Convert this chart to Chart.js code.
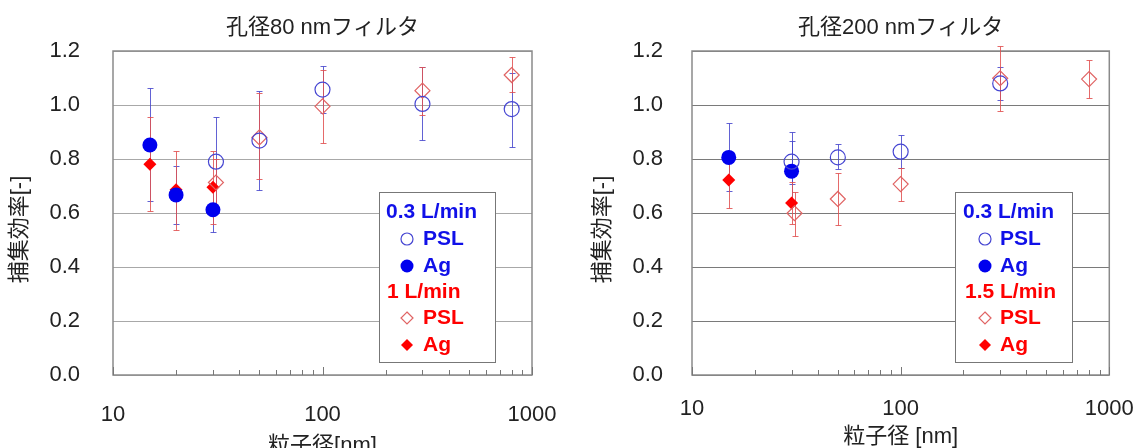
<!DOCTYPE html>
<html><head><meta charset="utf-8">
<script src="https://cdn.jsdelivr.net/npm/chart.js@4.4.1/dist/chart.umd.min.js"></script>
<style>
html,body{margin:0;padding:0;background:#fff;overflow:hidden;width:1140px;height:448px;}
.wrap{position:absolute;top:0;width:570px;height:470px;}
#w1{left:0;} #w2{left:570px;}
</style></head><body>
<div class="wrap" id="w1"><canvas id="c1" width="570" height="470"></canvas></div>
<div class="wrap" id="w2"><canvas id="c2" width="570" height="470"></canvas></div>
<script>
// ---------- text ----------
const titleLeft = '孔径80 nmフィルタ';
const titleRight = '孔径200 nmフィルタ';
const xTitleLeft = '粒子径[nm]';
const xTitleRight = '粒子径 [nm]';
const yTitle = '捕集効率[-]';
const xTickLabels = ['10', '100', '1000'];
const xTickValues = [10,20,30,40,50,60,70,80,90,100,200,300,400,500,600,700,800,900,1000];
const legendLeft = ['0.3 L/min', 'PSL', 'Ag', '1 L/min', 'PSL', 'Ag'];
const legendRight = ['0.3 L/min', 'PSL', 'Ag', '1.5 L/min', 'PSL', 'Ag'];

// ---------- left chart (80 nm filter) ----------
const L_psl03_x  = [31, 50, 100, 300, 800];
const L_psl03_y  = [0.79, 0.868, 1.057, 1.004, 0.985];
const L_psl03_hi = [0.957, 1.053, 1.146, 1.142, 1.12];
const L_psl03_lo = [0.60, 0.685, 0.97, 0.870, 0.843];

const L_ag03_x  = [15, 20, 30];
const L_ag03_y  = [0.852, 0.667, 0.612];
const L_ag03_hi = [1.063, 0.775, 0.70];
const L_ag03_lo = [0.643, 0.559, 0.528];

const L_psl1_x  = [31, 50, 100, 300, 800];
const L_psl1_y  = [0.713, 0.88, 0.995, 1.053, 1.111];
const L_psl1_hi = [0.80, 1.043, 1.13, 1.142, 1.176];
const L_psl1_lo = [0.62, 0.726, 0.861, 0.964, 1.047];

const L_ag1_x  = [15, 20, 30];
const L_ag1_y  = [0.781, 0.686, 0.695];
const L_ag1_hi = [0.954, 0.83, 0.83];
const L_ag1_lo = [0.609, 0.538, 0.559];

// ---------- right chart (200 nm filter) ----------
const R_psl03_x  = [30, 50, 100, 300];
const R_psl03_y  = [0.79, 0.806, 0.827, 1.08];
const R_psl03_hi = [0.901, 0.855, 0.889, 1.139];
const R_psl03_lo = [0.707, 0.763, 0.767, 1.019];

const R_ag03_x  = [15, 30];
const R_ag03_y  = [0.806, 0.755];
const R_ag03_hi = [0.932, 0.868];
const R_ag03_lo = [0.683, 0.645];

const R_psl15_x  = [31, 50, 100, 300, 800];
const R_psl15_y  = [0.599, 0.652, 0.707, 1.099, 1.096];
const R_psl15_hi = [0.676, 0.748, 0.767, 1.22, 1.167];
const R_psl15_lo = [0.516, 0.556, 0.646, 0.976, 1.026];

const R_ag15_x  = [15, 30];
const R_ag15_y  = [0.722, 0.637];
const R_ag15_hi = [0.80, 0.713];
const R_ag15_lo = [0.617, 0.56];

// ---------- styles ----------
const BLUE_OPEN = '#4646d2', BLUE_FILL = '#0000ee';
const RED_OPEN = '#e06464', RED_FILL = '#ff0000';
const BLUE_ERR = 'rgba(70,70,205,0.85)', RED_ERR = 'rgba(225,80,80,0.85)';
const FONT = '"Liberation Sans", "Noto Sans CJK JP", sans-serif';

Chart.defaults.font.family = FONT;
Chart.defaults.color = '#222';

function pts(xs, ys) { return xs.map((x, i) => ({x: x, y: ys[i]})); }

function makeSets(p03x, p03y, p03h, p03l, a03x, a03y, a03h, a03l, p1x, p1y, p1h, p1l, a1x, a1y, a1h, a1l) {
  return [
    {data: pts(p03x, p03y), errHi: p03h, errLo: p03l, errColor: BLUE_ERR,
     pointStyle: 'circle', pointRadius: 7.5, borderColor: BLUE_OPEN, backgroundColor: 'rgba(0,0,0,0)', borderWidth: 1.2},
    {data: pts(a03x, a03y), errHi: a03h, errLo: a03l, errColor: BLUE_ERR,
     pointStyle: 'circle', pointRadius: 7.5, borderColor: BLUE_FILL, backgroundColor: BLUE_FILL, borderWidth: 0},
    {data: pts(p1x, p1y), errHi: p1h, errLo: p1l, errColor: RED_ERR,
     pointStyle: 'rectRot', pointRadius: 7.5, borderColor: RED_OPEN, backgroundColor: 'rgba(0,0,0,0)', borderWidth: 1.2},
    {data: pts(a1x, a1y), errHi: a1h, errLo: a1l, errColor: RED_ERR,
     pointStyle: 'rectRot', pointRadius: 6.5, borderColor: RED_FILL, backgroundColor: RED_FILL, borderWidth: 0}
  ];
}

const errorBars = {
  id: 'errorBars',
  beforeDatasetsDraw(chart) {
    const ctx = chart.ctx, xs = chart.scales.x, ys = chart.scales.y;
    chart.data.datasets.forEach(ds => {
      ctx.save();
      ctx.strokeStyle = ds.errColor;
      ctx.lineWidth = 1;
      ds.data.forEach((p, i) => {
        const px = Math.round(xs.getPixelForValue(p.x)) + 0.5;
        const yh = Math.round(ys.getPixelForValue(ds.errHi[i])) + 0.5;
        const yl = Math.round(ys.getPixelForValue(ds.errLo[i])) + 0.5;
        ctx.beginPath();
        ctx.moveTo(px, yh); ctx.lineTo(px, yl);
        ctx.moveTo(px - 3, yh); ctx.lineTo(px + 3, yh);
        ctx.moveTo(px - 3, yl); ctx.lineTo(px + 3, yl);
        ctx.stroke();
      });
      ctx.restore();
    });
  }
};

const frame = {
  id: 'frame',
  beforeDatasetsDraw(chart) {
    const ctx = chart.ctx, a = chart.chartArea, xs = chart.scales.x;
    ctx.save();
    ctx.strokeStyle = '#8a8a8a';
    ctx.lineWidth = 1.5;
    ctx.strokeRect(a.left, a.top, a.right - a.left, a.bottom - a.top);
    ctx.lineWidth = 1;
    ctx.strokeStyle = '#777';
    xs.ticks.forEach(t => {
      const px = Math.round(xs.getPixelForValue(t.value)) + 0.5;
      const major = xTickLabels.indexOf(String(t.value)) >= 0;
      ctx.beginPath();
      ctx.moveTo(px, a.bottom);
      ctx.lineTo(px, a.bottom - (major ? 8 : 5));
      ctx.stroke();
    });
    ctx.restore();
  }
};

const boxLegend = {
  id: 'boxLegend',
  afterDraw(chart, args, o) {
    const ctx = chart.ctx, a = chart.chartArea;
    const bx = a.left + o.dx, by = o.top;
    ctx.save();
    ctx.fillStyle = '#fff';
    ctx.fillRect(bx, by, o.w, o.h);
    ctx.strokeStyle = '#777';
    ctx.lineWidth = 1;
    ctx.strokeRect(bx + 0.5, by + 0.5, o.w, o.h);
    ctx.font = 'bold 21px ' + FONT;
    ctx.textBaseline = 'middle';
    ctx.textAlign = 'left';
    const rows = o.rows;
    const lab = o.labels;
    const colors = ['#1010e8', '#1010e8', '#1010e8', '#ff0000', '#ff0000', '#ff0000'];
    for (let i = 0; i < 6; i++) {
      const y = by + rows[i];
      ctx.fillStyle = colors[i];
      if (i === 0 || i === 3) {
        ctx.fillText(lab[i], bx + (i === 0 ? o.hx1 : o.hx2), y);
      } else {
        ctx.fillText(lab[i], bx + o.tx, y);
        const sx = bx + o.sx;
        ctx.beginPath();
        if (i === 1) { ctx.arc(sx, y, 6, 0, Math.PI * 2); ctx.strokeStyle = BLUE_OPEN; ctx.lineWidth = 1.2; ctx.stroke(); }
        if (i === 2) { ctx.arc(sx, y, 6.5, 0, Math.PI * 2); ctx.fillStyle = BLUE_FILL; ctx.fill(); }
        if (i === 4) { ctx.moveTo(sx, y - 6); ctx.lineTo(sx + 6, y); ctx.lineTo(sx, y + 6); ctx.lineTo(sx - 6, y); ctx.closePath(); ctx.strokeStyle = RED_OPEN; ctx.lineWidth = 1.2; ctx.stroke(); }
        if (i === 5) { ctx.moveTo(sx, y - 6); ctx.lineTo(sx + 6, y); ctx.lineTo(sx, y + 6); ctx.lineTo(sx - 6, y); ctx.closePath(); ctx.fillStyle = RED_FILL; ctx.fill(); }
      }
    }
    ctx.restore();
  }
};

function makeChart(id, title, xTitle, sets, cfg) {
  return new Chart(document.getElementById(id), {
    type: 'scatter',
    data: {datasets: sets},
    plugins: [frame, errorBars, boxLegend],
    options: {
      responsive: false,
      animation: false,
      layout: {padding: {left: 0, right: cfg.padRight, top: 0, bottom: 0}},
      plugins: {
        legend: {display: false},
        tooltip: {enabled: false},
        title: {display: true, text: title, fullSize: false,
                font: {size: 22, weight: 'normal', family: FONT}, color: '#222',
                padding: {top: 14.8, bottom: 9.8}},
        boxLegend: cfg.legend
      },
      scales: {
        x: {
          type: 'logarithmic', min: 10, max: 1000,
          afterBuildTicks(s) { s.ticks = xTickValues.map(v => ({value: v})); },
          afterFit(s) { s.height = 95; s.paddingLeft = 0; s.paddingRight = 0; },
          grid: {display: false, drawTicks: false},
          border: {display: false},
          ticks: {autoSkip: false, maxRotation: 0, minRotation: 0, padding: cfg.xTickPad,
                  font: {size: 22}, color: '#222',
                  callback(v) { return xTickLabels.indexOf(String(v)) >= 0 ? String(v) : ''; }},
          title: {display: true, text: xTitle, font: {size: 22}, color: '#222',
                  padding: {top: 0, bottom: cfg.xTitlePad}}
        },
        y: {
          min: 0, max: 1.2,
          afterFit(s) { s.width = cfg.yWidth; },
          grid: {color: cfg.gridColor, lineWidth: 1, drawTicks: false},
          border: {display: false},
          ticks: {stepSize: 0.2, padding: cfg.yTickPad, font: {size: 22}, color: '#222',
                  callback(v) { return v.toFixed(1); }},
          title: {display: true, text: yTitle + '\u2002\u2002\u2002', font: {size: 22}, color: '#222',
                  padding: {top: cfg.yTitlePad, bottom: 0}}
        }
      }
    }
  });
}

makeChart('c1', titleLeft, xTitleLeft,
  makeSets(L_psl03_x, L_psl03_y, L_psl03_hi, L_psl03_lo, L_ag03_x, L_ag03_y, L_ag03_hi, L_ag03_lo,
           L_psl1_x, L_psl1_y, L_psl1_hi, L_psl1_lo, L_ag1_x, L_ag1_y, L_ag1_hi, L_ag1_lo),
  {padRight: 38, yWidth: 113, yTitlePad: 6.8, yTickPad: 33, xTickPad: 27, xTitlePad: 11, gridColor: '#a8a8a8',
   legend: {dx: 266, top: 192, w: 116, h: 170, hx1: 7, hx2: 8, sx: 28, tx: 44,
            rows: [20, 47, 74, 100, 126, 153], labels: legendLeft}});

makeChart('c2', titleRight, xTitleRight,
  makeSets(R_psl03_x, R_psl03_y, R_psl03_hi, R_psl03_lo, R_ag03_x, R_ag03_y, R_ag03_hi, R_ag03_lo,
           R_psl15_x, R_psl15_y, R_psl15_hi, R_psl15_lo, R_ag15_x, R_ag15_y, R_ag15_hi, R_ag15_lo),
  {padRight: 30.7, yWidth: 122, yTitlePad: 19.8, yTickPad: 29, xTickPad: 21, xTitlePad: 19.8, gridColor: '#7a7a7a',
   legend: {dx: 263, top: 192, w: 117, h: 170, hx1: 8, hx2: 10, sx: 30, tx: 45,
            rows: [20, 47, 74, 100, 126, 153], labels: legendRight}});
</script>
</body></html>
